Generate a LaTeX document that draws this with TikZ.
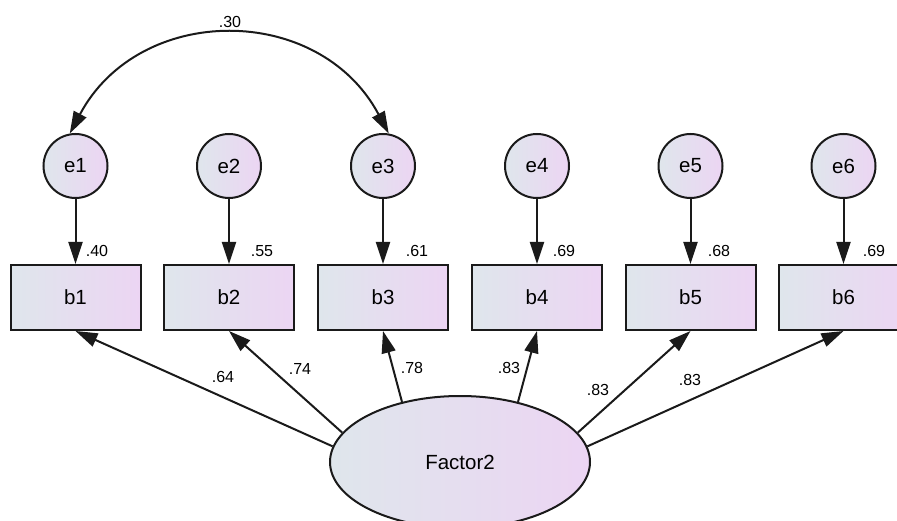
\documentclass[tikz,border=0pt]{standalone}
\usepackage{fontspec}
\setmainfont{Liberation Sans}
\usetikzlibrary{arrows.meta,shapes.geometric}
\definecolor{fillL}{HTML}{DFE6EC}
\definecolor{fillR}{HTML}{ECD5F3}
\definecolor{linec}{HTML}{1A1A1A}

\begin{document}
\begin{tikzpicture}[x=1pt,y=-1pt,->,>={Triangle[length=22pt,width=14pt]},line width=2pt,draw=linec,
  err/.style={shape=circle,draw=linec,minimum size=64pt,inner sep=0pt,left color=fillL,right color=fillR,font=\fontsize{20.5}{24}\selectfont},
  obs/.style={shape=rectangle,draw=linec,minimum width=130pt,minimum height=65pt,inner sep=0pt,left color=fillL,right color=fillR,font=\fontsize{20.5}{24}\selectfont},
  lat/.style={shape=ellipse,draw=linec,minimum width=260pt,minimum height=132pt,inner sep=0pt,left color=fillL,right color=fillR,font=\fontsize{20.5}{24}\selectfont},
  coef/.style={inner sep=0pt,font=\fontsize{16}{19}\selectfont}]
\clip[-] (0,0) rectangle (897,521);
\node[err] (e1) at (75.5,166) {e1};
\node[err] (e2) at (229,166) {e2};
\node[err] (e3) at (383,166) {e3};
\node[err] (e4) at (537,166) {e4};
\node[err] (e5) at (690.5,166) {e5};
\node[err] (e6) at (843.5,166) {e6};
\node[obs] (b1) at (75.5,297.5) {b1};
\node[obs] (b2) at (229,297.5) {b2};
\node[obs] (b3) at (383,297.5) {b3};
\node[obs] (b4) at (537,297.5) {b4};
\node[obs] (b5) at (690.5,297.5) {b5};
\node[obs] (b6) at (843.5,297.5) {b6};
\node[lat] (F) at (460,462) {Factor2};
% residual and loading values
\node[coef] (r1) at (97,251) {.40};
\node[coef] (r2) at (262,251) {.55};
\node[coef] (r3) at (417,251) {.61};
\node[coef] (r4) at (564,251) {.69};
\node[coef] (r5) at (719,251) {.68};
\node[coef] (r6) at (874,251) {.69};
\node[coef] (l1) at (223,377) {.64};
\node[coef] (l2) at (300,369) {.74};
\node[coef] (l3) at (412,368) {.78};
\node[coef] (l4) at (509,368) {.83};
\node[coef] (l5) at (598,390) {.83};
\node[coef] (l6) at (690,380) {.83};
\node[coef] (c13) at (230,22) {.30};
\path (e1) edge (b1);
\path (e2) edge (b2);
\path (e3) edge (b3);
\path (e4) edge (b4);
\path (e5) edge (b5);
\path (e6) edge (b6);
\path (F.173) edge (b1.south);
\path (F.166) edge (b2.south);
\path (F.134) edge (b3.south);
\path (F.46) edge (b4.south);
\path (F.14) edge (b5.south);
\path (F.7) edge (b6.south);
\draw[<->] (e1.100) .. controls +(62:148pt) and +(118:148pt) .. (e3.80);
\end{tikzpicture}
\end{document}
